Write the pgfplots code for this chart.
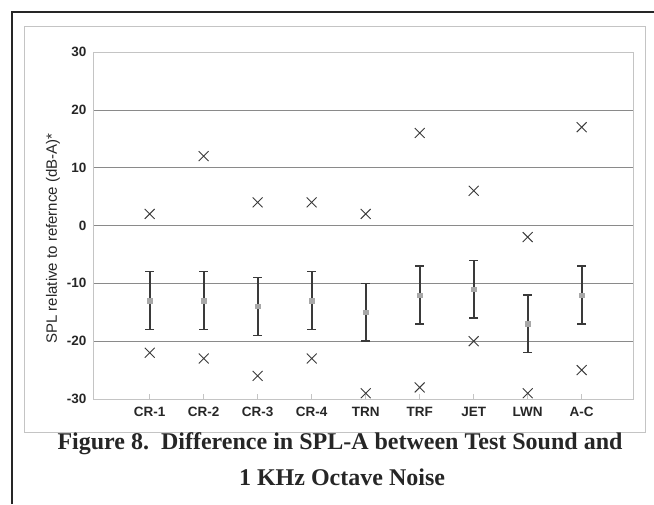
\documentclass[border=0pt]{standalone}
\usepackage{fontspec}
\setmainfont{Liberation Serif}
\newfontfamily\hel{Liberation Sans}
\usepackage{pgfplots}
\pgfplotsset{compat=1.18}
\definecolor{gridc}{HTML}{8A8A8A}
\definecolor{framec}{HTML}{C4C4C4}
\definecolor{barc}{HTML}{3A3A3A}
\definecolor{meanc}{HTML}{A8A8A8}

\pgfplotstableread{
x  y    e  up   lo
1  -13  5  2    -22
2  -13  5  12   -23
3  -14  5  4    -26
4  -13  5  4    -23
5  -15  5  2    -29
6  -12  5  16   -28
7  -11  5  6    -20
8  -17  5  -2   -29
9  -12  5  17   -25
}\spldata

\begin{document}
\begin{tikzpicture}
\path[use as bounding box] (0,0) rectangle (654pt,504pt);
% scanned frame
\draw[line width=1.2pt, black!85] (12pt,0) -- (12pt,492pt) -- (654pt,492pt);
\draw[line width=0.8pt, framec] (24pt,72pt) rectangle (645pt,478pt);
\begin{axis}[
  at={(93pt,105pt)}, anchor=south west,
  scale only axis, width=540pt, height=347pt,
  xmin=-0.05, xmax=9.95, ymin=-30, ymax=30,
  xtick={1,...,9},
  xticklabels={CR-1, CR-2, CR-3, CR-4, TRN, TRF, JET, LWN, A-C},
  ytick={-30,-20,...,30},
  ymajorgrids, grid style={gridc, line width=0.6pt},
  axis line style={framec, line width=0.6pt},
  xtick pos=bottom, ytick style={draw=none},
  x tick style={framec, line width=0.8pt}, tick align=inside,
  major tick length=5pt,
  /pgf/number format/assume math mode=true,
  ticklabel style={font=\hel\bfseries\fontsize{13.5}{15}\selectfont, text=black!85},
  xticklabel style={yshift=-5pt},
  yticklabel style={xshift=-3pt},
  ylabel={SPL relative to refernce (dB-A)*},
  every axis y label/.style={at={(ticklabel cs:0.5)}, rotate=90, anchor=south,
    xshift=-13pt, font=\hel\fontsize{15}{17}\selectfont, text=black!85},
]
\addplot[only marks, mark=square*, mark size=2.2pt, color=meanc,
  error bars/.cd, y dir=both, y explicit,
  error bar style={line width=2pt, draw=barc},
  error mark options={rotate=90, mark size=4.5pt, line width=1.4pt, draw=barc}]
  table[x=x, y=y, y error=e] {\spldata};
\addplot[only marks, mark=x, mark size=7pt, color=barc, line width=0.9pt]
  table[x=x, y=up] {\spldata};
\addplot[only marks, mark=x, mark size=7pt, color=barc, line width=0.9pt]
  table[x=x, y=lo] {\spldata};
\end{axis}
\node[anchor=base, font=\bfseries\fontsize{24}{28}\selectfont, text=black!85] at (340pt,55pt)
  {Figure 8.\ \ Difference in SPL-A between Test Sound and};
\node[anchor=base, font=\bfseries\fontsize{24}{28}\selectfont, text=black!85] at (342pt,19pt)
  {1 KHz Octave Noise};
\end{tikzpicture}
\end{document}
